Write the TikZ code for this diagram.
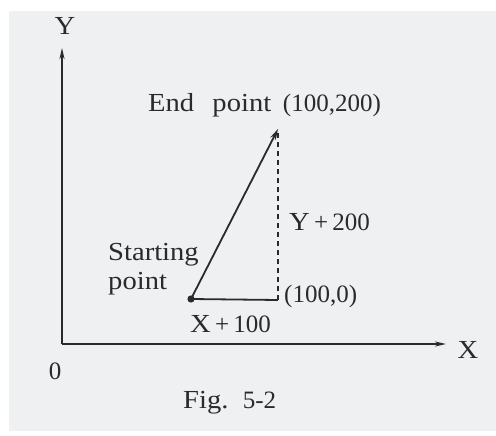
\documentclass[tikz,border=0pt]{standalone}
\usepackage{fontspec}
\setmainfont{Liberation Serif}[FakeStretch=1.1]
\newfontfamily\numfont{Liberation Serif}
\newcommand{\nm}[1]{{\numfont\fontsize{25}{30}\selectfont #1}}
\usetikzlibrary{arrows.meta}
\definecolor{bg}{HTML}{EFF0F2}
\definecolor{ink}{HTML}{2A2A2A}
\begin{document}
\begin{tikzpicture}[x=1pt,y=-1pt,
  line/.style={draw=ink,line width=1.8pt},
  axis/.style={line,-{Stealth[length=11pt,width=5pt]}},
  lbl/.style={text=ink,font=\fontsize{26}{30}\selectfont,inner sep=0pt}]
\useasboundingbox (0,0) rectangle (496,436);
\fill[white] (0,0) rectangle (496,436);
\fill[bg] (9,11) rectangle (496,431);
% points
\coordinate (O) at (62,344);
\coordinate (Ytip) at (62,48);
\coordinate (Xtip) at (446,344);
\coordinate (S) at (191,299);
\coordinate (E) at (278,129);
\coordinate (C) at (278,300);
% axes
\draw[axis] (O) -- (Ytip);
\draw[axis] (O) -- (Xtip);
% vectors
\draw[line,-{Stealth[length=11pt,width=6pt]}] (S) -- (E);
\draw[line] (S) -- (C);
\draw[line,dashed,dash pattern=on 5pt off 4pt] (C) -- (E);
\fill[ink] (S) circle (3.6pt);
% labels
\node[lbl,anchor=base] (ylab) at (65,35) {Y};
\node[lbl,anchor=base] (xlab) at (468,358) {X};
\node[lbl,anchor=base] (zero) at (55,379) {\nm{0}};
\node[lbl,anchor=base west] (endl) at (148,111) {End\hspace{0.7em}point\hspace{0.45em}\nm{(100,200)}};
\node[lbl,anchor=base west] (yl) at (289,230) {Y\nm{\,+\,200}};
\node[lbl,anchor=base west] (st1) at (108,260) {Starting};
\node[lbl,anchor=base west] (st2) at (108,289) {point};
\node[lbl,anchor=base west] (cl) at (284,302) {\nm{(100,0)}};
\node[lbl,anchor=base west] (xl) at (190,332) {X\nm{\,+\,100}};
\node[lbl,anchor=base west] (fig) at (183,408) {Fig.\hspace{0.55em}\nm{5-2}};
\end{tikzpicture}
\end{document}
